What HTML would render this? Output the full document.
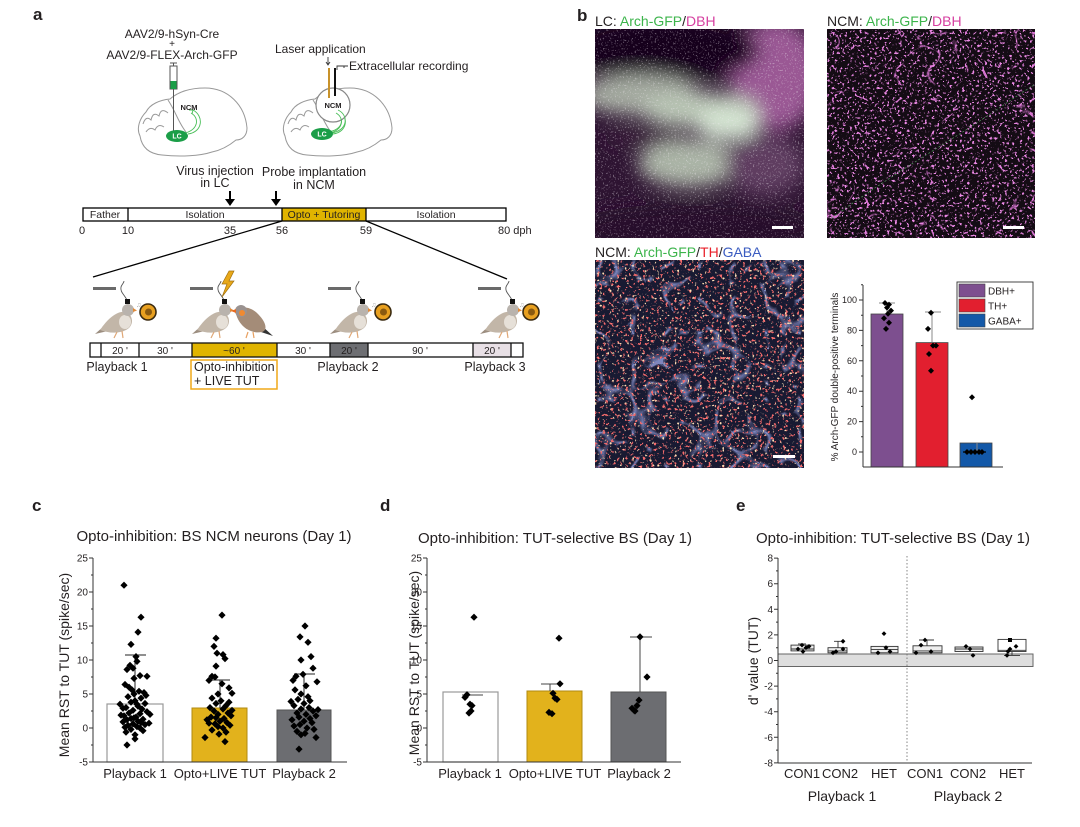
<!DOCTYPE html>
<html><head><meta charset="utf-8"><style>
html,body{margin:0;padding:0;background:#fff}
svg{display:block}
text{font-family:"Liberation Sans",Arial,sans-serif;fill:#231f20}
</style></head><body>
<svg width="1080" height="827" viewBox="0 0 1080 827" xmlns="http://www.w3.org/2000/svg">
<defs>
<path id="dm" d="M0,-3.6L3.6,0L0,3.6L-3.6,0Z" fill="#000"/>
<path id="ds" d="M0,-3L3,0L0,3L-3,0Z" fill="#000"/>
<path id="de" d="M0,-2.4L2.4,0L0,2.4L-2.4,0Z" fill="#000"/>
<filter id="blur9" x="-30%" y="-30%" width="160%" height="160%"><feGaussianBlur stdDeviation="9"/></filter>
<filter id="spW" x="0" y="0" width="1" height="1">
 <feTurbulence type="fractalNoise" baseFrequency="0.6" numOctaves="2" seed="3"/>
 <feColorMatrix type="matrix" values="0 0 0 0 0.9  0 0 0 0 0.85  0 0 0 0 0.9  12 0 0 0 -7.4"/>
</filter>
<filter id="spM" x="0" y="0" width="1" height="1">
 <feTurbulence type="fractalNoise" baseFrequency="0.4" numOctaves="2" seed="7"/>
 <feColorMatrix type="matrix" values="0 0 0 0 0.85  0 0 0 0 0.25  0 0 0 0 0.8  12 0 0 0 -7.2"/>
</filter>
<filter id="fibM" x="0" y="0" width="1" height="1">
 <feTurbulence type="turbulence" baseFrequency="0.03" numOctaves="2" seed="11"/>
 <feColorMatrix type="matrix" values="0 0 0 0 0.8  0 0 0 0 0.2  0 0 0 0 0.75  -22 0 0 0 1.1"/>
</filter>
<filter id="fibB" x="0" y="0" width="1" height="1">
 <feTurbulence type="turbulence" baseFrequency="0.03" numOctaves="2" seed="4"/>
 <feColorMatrix type="matrix" values="0 0 0 0 0.3  0 0 0 0 0.36  0 0 0 0 0.76  -8 0 0 0 1.0"/>
</filter>
<filter id="spR" x="0" y="0" width="1" height="1">
 <feTurbulence type="fractalNoise" baseFrequency="0.35" numOctaves="2" seed="21"/>
 <feColorMatrix type="matrix" values="0 0 0 0 0.92  0 0 0 0 0.15  0 0 0 0 0.15  13 0 0 0 -8.0"/>
</filter>
<filter id="spY" x="0" y="0" width="1" height="1">
 <feTurbulence type="fractalNoise" baseFrequency="0.4" numOctaves="1" seed="33"/>
 <feColorMatrix type="matrix" values="0 0 0 0 1  0 0 0 0 0.72  0 0 0 0 0.45  14 0 0 0 -9.2"/>
</filter>
<clipPath id="c1"><rect x="595" y="29" width="209" height="209"/></clipPath>
<g id="brain">
 <path d="M140,136 C136,128 140,118 146,112 C150,104 160,100 170,99 C178,92 190,88 205,88 C228,88 245,105 247,128 C247,136 242,140 236,140 C230,145 222,150 212,152 C200,156 180,157 162,155 C150,154 142,148 140,136 Z" fill="#fff" stroke="#999" stroke-width="1"/>
 <path d="M143,124 q3,-9 8,-4 q2,-9 8,-4 q2,-9 9,-3 M146,132 q4,-6 9,-2 q3,-7 9,-3" fill="none" stroke="#999"/>
 <path d="M168,100 C176,112 178,122 186,132" fill="none" stroke="#999"/>
 <path d="M185,133 C198,130 200,118 191,113 M188,134 C203,132 204,116 193,110 M189,110 l4,0 -1,4" fill="none" stroke="#4bbf5a" stroke-width="0.9"/>
</g>
<g id="bird">
 <rect x="93" y="287" width="23" height="3" fill="#6a6a6a"/>
 <path d="M127,300 C124,294 120,292 121,287 C122,284 124,283 124,281" fill="none" stroke="#555" stroke-width="0.9"/>
 <polygon points="95,334 104,326 108,331" fill="#9c8e80"/>
 <path d="M100,330 C108,318 118,310 126,312 C134,316 134,326 126,330 C118,334 108,333 100,330 Z" fill="#c2b6a8"/>
 <ellipse cx="125" cy="322" rx="6" ry="7" fill="#e6e0d8"/>
 <circle cx="128" cy="310" r="6" fill="#b9b3ad"/>
 <polygon points="133,308 137,310.5 133,312" fill="#e08a38"/>
 <path d="M117,332 l-3,6 M122,331 l1,7" stroke="#e0a878" stroke-width="1.2"/>
 <rect x="125" y="299" width="5" height="5" fill="#111"/>
</g>
<g id="spk">
 <circle cx="0" cy="0" r="8" fill="#e8a020" stroke="#3a2a10" stroke-width="1.6"/>
 <circle cx="0.5" cy="0" r="3.5" fill="#8a5a10"/>
 <text x="-12" y="-5" font-size="7" style="fill:#aaa">♫</text>
</g>
</defs>

<!-- ===== Panel a ===== -->
<text x="33" y="20" font-size="17" font-weight="bold">a</text>
<text x="172" y="38" font-size="12" text-anchor="middle">AAV2/9-hSyn-Cre</text>
<text x="172" y="47" font-size="10" text-anchor="middle">+</text>
<text x="172" y="59" font-size="12" text-anchor="middle">AAV2/9-FLEX-Arch-GFP</text>
<use href="#brain"/>
<path d="M170,63 h7 M173.5,63 v3" stroke="#555"/>
<rect x="170" y="66" width="7" height="23" fill="#fff" stroke="#555"/>
<rect x="170.5" y="81" width="6" height="8" fill="#1b9e48"/>
<line x1="173.5" y1="89" x2="173.5" y2="131" stroke="#555"/>
<text x="189" y="110" font-size="7.5" font-weight="bold" text-anchor="middle">NCM</text>
<ellipse cx="177" cy="136" rx="11" ry="6" fill="#1b9e48"/>
<text x="177" y="138.5" font-size="7" font-weight="bold" text-anchor="middle" style="fill:#fff">LC</text>

<use href="#brain" x="145"/>
<circle cx="333" cy="105" r="17" fill="#fff" stroke="#888" stroke-width="1.2"/>
<path d="M328,132 C343,130 345,118 336,113 M331,133 C348,131 349,115 338,110" fill="none" stroke="#4bbf5a" stroke-width="0.9"/>
<text x="333" y="108" font-size="7.5" font-weight="bold" text-anchor="middle">NCM</text>
<ellipse cx="322" cy="134" rx="11" ry="6" fill="#1b9e48"/>
<text x="322" y="136.5" font-size="7" font-weight="bold" text-anchor="middle" style="fill:#fff">LC</text>
<line x1="329" y1="68" x2="329" y2="98" stroke="#c8922a" stroke-width="2"/>
<line x1="335" y1="68" x2="335" y2="96" stroke="#111" stroke-width="2"/>
<path d="M328,57 v7 M326,62 l2,3 2,-3" fill="none" stroke="#333" stroke-width="0.9"/>
<path d="M337,70 v-4 h7 v2 M344,66 h4" fill="none" stroke="#333" stroke-width="0.9"/>
<text x="275" y="53" font-size="12">Laser application</text>
<text x="349" y="70" font-size="12">Extracellular recording</text>

<text x="215" y="175" font-size="12.5" text-anchor="middle">Virus injection</text>
<text x="215" y="187" font-size="12.5" text-anchor="middle">in LC</text>
<text x="314" y="176" font-size="12.5" text-anchor="middle">Probe implantation</text>
<text x="314" y="189" font-size="12.5" text-anchor="middle">in NCM</text>
<line x1="230" y1="191" x2="230" y2="200" stroke="#000" stroke-width="2"/>
<polygon points="225,199 235,199 230,206" fill="#000"/>
<line x1="276" y1="191" x2="276" y2="200" stroke="#000" stroke-width="2"/>
<polygon points="271,199 281,199 276,206" fill="#000"/>

<rect x="282" y="208" width="84" height="13" fill="#e0b400"/>
<rect x="83" y="208" width="423" height="13" fill="none" stroke="#000" stroke-width="1.3"/>
<path d="M128,208 v13 M282,208 v13 M366,208 v13" stroke="#000" stroke-width="1.3"/>
<text x="105" y="218" font-size="10.5" text-anchor="middle">Father</text>
<text x="205" y="218" font-size="10.5" text-anchor="middle">Isolation</text>
<text x="324" y="218" font-size="10.5" text-anchor="middle">Opto + Tutoring</text>
<text x="436" y="218" font-size="10.5" text-anchor="middle">Isolation</text>
<text x="82" y="234" font-size="11" text-anchor="middle">0</text>
<text x="128" y="234" font-size="11" text-anchor="middle">10</text>
<text x="230" y="234" font-size="11" text-anchor="middle">35</text>
<text x="282" y="234" font-size="11" text-anchor="middle">56</text>
<text x="366" y="234" font-size="11" text-anchor="middle">59</text>
<text x="498" y="234" font-size="11">80 dph</text>
<line x1="282" y1="221" x2="93" y2="277" stroke="#000" stroke-width="1.3"/>
<line x1="366" y1="221" x2="507" y2="279" stroke="#000" stroke-width="1.3"/>

<!-- birds -->
<use href="#bird"/>
<use href="#spk" x="148" y="312"/>
<use href="#bird" x="97"/>
<polygon points="229,271 222,284 227,284 222,297 234,281 229,281 234,271" fill="#e8a818" stroke="#a07010" stroke-width="0.7"/>
<g>
 <polygon points="273,336 262,326 258,331" fill="#333"/>
 <path d="M236,314 C240,305 250,306 258,314 C266,322 268,330 262,332 C252,334 240,328 236,314 Z" fill="#a48c78"/>
 <circle cx="241" cy="311" r="6" fill="#9a9290"/>
 <circle cx="242" cy="313" r="3" fill="#f08a30"/>
 <polygon points="236,309 231,311 236,313" fill="#e86a20"/>
 <path d="M248,332 l-2,6 M253,332 l1,6" stroke="#e8a060" stroke-width="1.2"/>
</g>
<use href="#bird" x="235"/>
<use href="#spk" x="383" y="312"/>
<use href="#bird" x="385"/>
<use href="#spk" x="531" y="312"/>

<!-- lower timeline -->
<rect x="192" y="343" width="85" height="14" fill="#e0b400"/>
<rect x="330" y="343" width="38" height="14" fill="#6d6e72"/>
<rect x="473" y="343" width="38" height="14" fill="#e8e0e6"/>
<rect x="90" y="343" width="433" height="14" fill="none" stroke="#111" stroke-width="1.3"/>
<path d="M101,343 v14 M139,343 v14 M192,343 v14 M277,343 v14 M330,343 v14 M368,343 v14 M473,343 v14 M511,343 v14" stroke="#111" stroke-width="1.3"/>
<text x="120" y="354" font-size="10" text-anchor="middle">20 '</text>
<text x="165" y="354" font-size="10" text-anchor="middle">30 '</text>
<text x="234" y="354" font-size="10" text-anchor="middle">~60 '</text>
<text x="303" y="354" font-size="10" text-anchor="middle">30 '</text>
<text x="349" y="354" font-size="10" text-anchor="middle">20 '</text>
<text x="420" y="354" font-size="10" text-anchor="middle">90 '</text>
<text x="492" y="354" font-size="10" text-anchor="middle">20 '</text>
<text x="117" y="371" font-size="12.5" text-anchor="middle">Playback 1</text>
<rect x="191" y="360" width="86" height="29" fill="none" stroke="#f0a818" stroke-width="1.5"/>
<text x="194" y="371" font-size="12.5">Opto-inhibition</text>
<text x="194" y="385" font-size="12.5">+ LIVE TUT</text>
<text x="348" y="371" font-size="12.5" text-anchor="middle">Playback 2</text>
<text x="495" y="371" font-size="12.5" text-anchor="middle">Playback 3</text>

<!-- ===== Panel b ===== -->
<text x="577" y="21" font-size="17" font-weight="bold">b</text>
<text x="595" y="26" font-size="14">LC: <tspan style="fill:#3cb44b">Arch-GFP</tspan>/<tspan style="fill:#d63fa0">DBH</tspan></text>
<text x="827" y="26" font-size="14">NCM: <tspan style="fill:#3cb44b">Arch-GFP</tspan>/<tspan style="fill:#d63fa0">DBH</tspan></text>
<text x="595" y="257" font-size="14">NCM: <tspan style="fill:#3cb44b">Arch-GFP</tspan>/<tspan style="fill:#e8202a">TH</tspan>/<tspan style="fill:#3a5bc0">GABA</tspan></text>

<g clip-path="url(#c1)">
 <rect x="595" y="29" width="209" height="209" fill="#2e1432"/>
 <g filter="url(#blur9)">
  <ellipse cx="775" cy="75" rx="45" ry="55" fill="#9a5894"/>
  <ellipse cx="665" cy="50" rx="95" ry="32" fill="#14061a"/>
  <ellipse cx="640" cy="95" rx="60" ry="20" fill="#a4aaa0"/>
  <ellipse cx="700" cy="110" rx="60" ry="18" fill="#b8c4b4"/>
  <ellipse cx="728" cy="124" rx="32" ry="16" fill="#d4e4d2"/>
  <ellipse cx="690" cy="163" rx="52" ry="24" fill="#aab4a6"/>
  <ellipse cx="645" cy="137" rx="40" ry="7" fill="#3a1a3a"/>
  <ellipse cx="765" cy="165" rx="40" ry="30" fill="#5e3e60"/>
  <ellipse cx="700" cy="228" rx="130" ry="25" fill="#26102a"/>
 </g>
 <rect x="595" y="29" width="209" height="209" filter="url(#spW)" opacity="0.35"/>
</g>
<rect x="772" y="226" width="21" height="3" fill="#fff"/>

<rect x="827" y="29" width="208" height="209" fill="#140c14"/>
<rect x="827" y="29" width="208" height="209" filter="url(#fibM)" opacity="0.9"/>
<rect x="827" y="29" width="208" height="209" filter="url(#spM)"/>
<path d="M832,218 C870,190 910,165 950,140 C990,115 1010,100 1034,85" fill="none" stroke="#5fae6a" stroke-width="0.8" stroke-dasharray="2,2" opacity="0.8"/>
<rect x="1003" y="226" width="21" height="3" fill="#fff"/>

<rect x="595" y="260" width="209" height="208" fill="#181a32"/>
<rect x="595" y="260" width="209" height="208" filter="url(#fibB)" opacity="0.8"/>
<rect x="595" y="260" width="209" height="208" filter="url(#spR)"/>
<rect x="595" y="260" width="209" height="208" filter="url(#spY)"/>
<rect x="773" y="455" width="22" height="3" fill="#fff"/>

<!-- b bar chart -->
<rect x="871" y="314" width="32" height="153" fill="#7d4f8f" stroke="#444" stroke-width="0.8"/>
<rect x="916" y="342.6" width="32" height="124.4" fill="#e21f2f" stroke="#444" stroke-width="0.8"/>
<rect x="960" y="443" width="32" height="24" fill="#1358a8" stroke="#444" stroke-width="0.8"/>
<path d="M887,314 V303 M879,303 H895 M932,342.6 V312 M925,312 H941 M977,443 V452" stroke="#888" stroke-width="1"/>
<line x1="863" y1="285" x2="863" y2="467" stroke="#333"/>
<line x1="863" y1="467" x2="1003" y2="467" stroke="#333"/>
<path d="M859,452 h4 M859,421.6 h4 M859,391.2 h4 M859,360.8 h4 M859,330.4 h4 M859,300 h4 M861,436.8 h2 M861,406.4 h2 M861,376 h2 M861,345.6 h2 M861,315.2 h2 M861,284.8 h2" stroke="#333"/>
<g font-size="9" text-anchor="end">
<text x="857" y="455">0</text><text x="857" y="424.6">20</text><text x="857" y="394.2">40</text><text x="857" y="363.8">60</text><text x="857" y="333.4">80</text><text x="857" y="303">100</text>
</g>
<text transform="translate(838,377) rotate(-90)" font-size="10" text-anchor="middle">% Arch-GFP double-positive terminals</text>
<use href="#ds" x="885" y="303"/><use href="#ds" x="889" y="304.6"/><use href="#ds" x="887" y="307.6"/><use href="#ds" x="891" y="310.6"/><use href="#ds" x="888" y="313.7"/><use href="#ds" x="884" y="318.2"/><use href="#ds" x="889" y="322.8"/><use href="#ds" x="886" y="328.9"/>
<use href="#ds" x="931" y="312.7"/><use href="#ds" x="928" y="328.9"/><use href="#ds" x="933" y="345.6"/><use href="#ds" x="936" y="345.6"/><use href="#ds" x="929" y="354"/><use href="#ds" x="931" y="370.7"/>
<use href="#ds" x="972" y="397.3"/><use href="#ds" x="967" y="452"/><use href="#ds" x="971" y="452"/><use href="#ds" x="975" y="452"/><use href="#ds" x="979" y="452"/><use href="#ds" x="982" y="452"/>
<line x1="963" y1="452" x2="986" y2="452" stroke="#000" stroke-width="1.2"/>
<rect x="957" y="282" width="76" height="47" fill="#fff" stroke="#333" stroke-width="0.9"/>
<rect x="959" y="284" width="26" height="13" fill="#7d4f8f" stroke="#444" stroke-width="0.6"/>
<rect x="959" y="299" width="26" height="13" fill="#e21f2f" stroke="#444" stroke-width="0.6"/>
<rect x="959" y="314" width="26" height="13" fill="#1358a8" stroke="#444" stroke-width="0.6"/>
<text x="988" y="294.5" font-size="10">DBH+</text>
<text x="988" y="309.5" font-size="10">TH+</text>
<text x="988" y="324.5" font-size="10">GABA+</text>

<!-- ===== Panel c ===== -->
<text x="32" y="511" font-size="17" font-weight="bold">c</text>
<text x="214" y="541" font-size="15" text-anchor="middle">Opto-inhibition: BS NCM neurons (Day 1)</text>
<rect x="107" y="704" width="56" height="58" fill="#fff" stroke="#999" stroke-width="1.2"/>
<rect x="192" y="708" width="55" height="54" fill="#e2b21c" stroke="#b08a10" stroke-width="1"/>
<rect x="277" y="710" width="54" height="52" fill="#6c6d71" stroke="#555" stroke-width="1"/>
<path d="M135,704 V655 M125,655 H146 M220,708 V680 M209,680 H230 M304,710 V674 M294,674 H315" stroke="#222" stroke-width="1"/>
<line x1="93" y1="558" x2="93" y2="762" stroke="#333"/>
<line x1="93" y1="762" x2="347" y2="762" stroke="#333"/>
<path d="M89,558h4M89,592h4M89,626h4M89,660h4M89,694h4M89,728h4M89,762h4M91,575h2M91,609h2M91,643h2M91,677h2M91,711h2M91,745h2" stroke="#333"/>
<g font-size="10" text-anchor="end">
<text x="88" y="561.5">25</text><text x="88" y="595.5">20</text><text x="88" y="629.5">15</text><text x="88" y="663.5">10</text><text x="88" y="697.5">5</text><text x="88" y="731.5">0</text><text x="88" y="765.5">-5</text>
</g>
<text transform="translate(69,665) rotate(-90)" font-size="14" text-anchor="middle">Mean RST to TUT (spike/sec)</text>
<g font-size="13" text-anchor="middle">
<text x="135" y="778">Playback 1</text><text x="220" y="778">Opto+LIVE TUT</text><text x="304" y="778">Playback 2</text>
</g>
<g>
<use href="#dm" x="124" y="585.2"/><use href="#dm" x="141" y="617.2"/><use href="#dm" x="138" y="632.1"/><use href="#dm" x="131" y="644.4"/><use href="#dm" x="136" y="656.6"/><use href="#dm" x="137" y="661.4"/><use href="#dm" x="130" y="665.4"/><use href="#dm" x="133" y="668.2"/><use href="#dm" x="127" y="669.5"/><use href="#dm" x="147" y="676.3"/><use href="#dm" x="140" y="675.6"/><use href="#dm" x="134" y="678.4"/><use href="#dm" x="125" y="684.5"/><use href="#dm" x="129" y="687.2"/><use href="#dm" x="132" y="689.9"/><use href="#dm" x="139" y="691.3"/><use href="#dm" x="144" y="692.6"/><use href="#dm" x="134" y="694"/><use href="#dm" x="128" y="696.7"/><use href="#dm" x="141" y="698.1"/><use href="#dm" x="135" y="700.8"/><use href="#dm" x="131" y="702.2"/><use href="#dm" x="145" y="703.5"/><use href="#dm" x="120" y="704.2"/><use href="#dm" x="138" y="706.2"/><use href="#dm" x="126" y="707.6"/><use href="#dm" x="142" y="709"/><use href="#dm" x="133" y="710.3"/><use href="#dm" x="147" y="711.7"/><use href="#dm" x="129" y="713"/><use href="#dm" x="140" y="713.7"/><use href="#dm" x="150" y="714.4"/><use href="#dm" x="124" y="715.8"/><use href="#dm" x="136" y="717.1"/><use href="#dm" x="131" y="718.5"/><use href="#dm" x="143" y="719.2"/><use href="#dm" x="127" y="719.8"/><use href="#dm" x="138" y="721.2"/><use href="#dm" x="123" y="721.9"/><use href="#dm" x="141" y="722.6"/><use href="#dm" x="133" y="723.9"/><use href="#dm" x="145" y="724.6"/><use href="#dm" x="128" y="725.3"/><use href="#dm" x="137" y="726.6"/><use href="#dm" x="125" y="727.3"/><use href="#dm" x="140" y="728"/><use href="#dm" x="131" y="729.4"/><use href="#dm" x="143" y="730.7"/><use href="#dm" x="126" y="732.1"/><use href="#dm" x="135" y="734.8"/><use href="#dm" x="135" y="738.9"/><use href="#dm" x="127" y="745"/><use href="#dm" x="137" y="704.2"/><use href="#dm" x="134" y="717.8"/><use href="#dm" x="123" y="708.3"/><use href="#dm" x="146" y="695.4"/><use href="#dm" x="149" y="723.2"/><use href="#dm" x="121" y="715.1"/>
<use href="#dm" x="222" y="615.1"/><use href="#dm" x="216" y="638.2"/><use href="#dm" x="214" y="646.4"/><use href="#dm" x="217" y="653.2"/><use href="#dm" x="223" y="654.6"/><use href="#dm" x="225" y="658.6"/><use href="#dm" x="216" y="666.1"/><use href="#dm" x="215" y="677"/><use href="#dm" x="212" y="676.3"/><use href="#dm" x="209" y="680.4"/><use href="#dm" x="222" y="683.8"/><use href="#dm" x="229" y="687.9"/><use href="#dm" x="232" y="693.3"/><use href="#dm" x="212" y="698.1"/><use href="#dm" x="221" y="700.8"/><use href="#dm" x="216" y="703.5"/><use href="#dm" x="226" y="705.6"/><use href="#dm" x="210" y="707.6"/><use href="#dm" x="223" y="709"/><use href="#dm" x="214" y="711"/><use href="#dm" x="228" y="713"/><use href="#dm" x="218" y="714.4"/><use href="#dm" x="231" y="715.8"/><use href="#dm" x="211" y="717.1"/><use href="#dm" x="224" y="718.5"/><use href="#dm" x="207" y="719.8"/><use href="#dm" x="220" y="721.2"/><use href="#dm" x="227" y="722.6"/><use href="#dm" x="215" y="723.9"/><use href="#dm" x="230" y="725.3"/><use href="#dm" x="218" y="726.6"/><use href="#dm" x="223" y="728"/><use href="#dm" x="212" y="730"/><use href="#dm" x="226" y="732.1"/><use href="#dm" x="219" y="734.1"/><use href="#dm" x="205" y="737.5"/><use href="#dm" x="225" y="741.6"/><use href="#dm" x="218" y="694"/><use href="#dm" x="229" y="702.2"/><use href="#dm" x="232" y="710.3"/><use href="#dm" x="216" y="717.8"/><use href="#dm" x="209" y="723.2"/>
<use href="#dm" x="305" y="626"/><use href="#dm" x="300" y="636.9"/><use href="#dm" x="308" y="642.3"/><use href="#dm" x="311" y="656.6"/><use href="#dm" x="301" y="660"/><use href="#dm" x="313" y="668.2"/><use href="#dm" x="303" y="674.3"/><use href="#dm" x="296" y="676.3"/><use href="#dm" x="293" y="680.4"/><use href="#dm" x="317" y="681.8"/><use href="#dm" x="306" y="685.8"/><use href="#dm" x="295" y="689.9"/><use href="#dm" x="301" y="694"/><use href="#dm" x="308" y="696.7"/><use href="#dm" x="298" y="699.4"/><use href="#dm" x="310" y="700.8"/><use href="#dm" x="304" y="703.5"/><use href="#dm" x="294" y="705.6"/><use href="#dm" x="309" y="707.6"/><use href="#dm" x="301" y="709"/><use href="#dm" x="313" y="711"/><use href="#dm" x="297" y="713"/><use href="#dm" x="306" y="714.4"/><use href="#dm" x="316" y="715.8"/><use href="#dm" x="299" y="717.1"/><use href="#dm" x="310" y="718.5"/><use href="#dm" x="292" y="719.8"/><use href="#dm" x="304" y="721.2"/><use href="#dm" x="312" y="722.6"/><use href="#dm" x="300" y="724.6"/><use href="#dm" x="294" y="726"/><use href="#dm" x="307" y="728"/><use href="#dm" x="314" y="729.4"/><use href="#dm" x="297" y="731.4"/><use href="#dm" x="305" y="733.4"/><use href="#dm" x="301" y="734.8"/><use href="#dm" x="316" y="737.5"/><use href="#dm" x="299" y="749.1"/><use href="#dm" x="318" y="709.6"/><use href="#dm" x="291" y="701.5"/>
</g>

<!-- ===== Panel d ===== -->
<text x="380" y="511" font-size="17" font-weight="bold">d</text>
<text x="555" y="543" font-size="15" text-anchor="middle">Opto-inhibition: TUT-selective BS (Day 1)</text>
<rect x="443" y="692" width="55" height="70" fill="#fff" stroke="#999" stroke-width="1.2"/>
<rect x="527" y="691" width="55" height="71" fill="#e2b21c" stroke="#b08a10" stroke-width="1"/>
<rect x="611" y="692" width="55" height="70" fill="#6c6d71" stroke="#555" stroke-width="1"/>
<path d="M462,695 H483 M550,691 V684 M541,684 H559 M640,692 V637 M630,637 H652" stroke="#444" stroke-width="1"/>
<line x1="427" y1="558" x2="427" y2="762" stroke="#333"/>
<line x1="427" y1="762" x2="681" y2="762" stroke="#333"/>
<path d="M423,558h4M423,592h4M423,626h4M423,660h4M423,694h4M423,728h4M423,762h4M425,575h2M425,609h2M425,643h2M425,677h2M425,711h2M425,745h2" stroke="#333"/>
<g font-size="10" text-anchor="end">
<text x="422" y="561.5">25</text><text x="422" y="595.5">20</text><text x="422" y="629.5">15</text><text x="422" y="663.5">10</text><text x="422" y="697.5">5</text><text x="422" y="731.5">0</text><text x="422" y="765.5">-5</text>
</g>
<text transform="translate(419,663) rotate(-90)" font-size="14" text-anchor="middle">Mean RST to TUT (spike/sec)</text>
<g font-size="13" text-anchor="middle">
<text x="470" y="778">Playback 1</text><text x="555" y="778">Opto+LIVE TUT</text><text x="639" y="778">Playback 2</text>
</g>
<use href="#dm" x="474" y="617.2"/><use href="#dm" x="467" y="694.7"/><use href="#dm" x="465" y="697.4"/><use href="#dm" x="470" y="704.2"/><use href="#dm" x="472" y="705.6"/><use href="#dm" x="471" y="711"/><use href="#dm" x="469" y="713"/>
<use href="#dm" x="559" y="638.2"/><use href="#dm" x="560" y="683.8"/><use href="#dm" x="553" y="693.3"/><use href="#dm" x="555" y="698.1"/><use href="#dm" x="557" y="699.4"/><use href="#dm" x="549" y="712.4"/><use href="#dm" x="552" y="713.7"/>
<use href="#dm" x="640" y="636.9"/><use href="#dm" x="647" y="677"/><use href="#dm" x="639" y="700.1"/><use href="#dm" x="637" y="705.6"/><use href="#dm" x="632" y="708.3"/><use href="#dm" x="634" y="710.3"/><use href="#dm" x="635" y="711"/>

<!-- ===== Panel e ===== -->
<text x="736" y="511" font-size="17" font-weight="bold">e</text>
<text x="893" y="543" font-size="15" text-anchor="middle">Opto-inhibition: TUT-selective BS (Day 1)</text>
<rect x="778" y="654" width="255" height="12.5" fill="#dedede" stroke="#666" stroke-width="1"/>
<line x1="907" y1="556" x2="907" y2="763" stroke="#666" stroke-width="0.8" stroke-dasharray="1.5,2"/>
<line x1="778" y1="558" x2="778" y2="763" stroke="#333"/>
<line x1="778" y1="763" x2="1032" y2="763" stroke="#333"/>
<path d="M774,558.1h4M774,583.7h4M774,609.3h4M774,634.9h4M774,660.5h4M774,686.1h4M774,711.7h4M774,737.3h4M774,762.9h4M776,570.9h2M776,596.5h2M776,622.1h2M776,647.7h2M776,673.3h2M776,698.9h2M776,724.5h2M776,750.1h2" stroke="#333"/>
<g font-size="10" text-anchor="end">
<text x="773" y="561.6">8</text><text x="773" y="587.2">6</text><text x="773" y="612.8">4</text><text x="773" y="638.4">2</text><text x="773" y="664">0</text><text x="773" y="689.6">-2</text><text x="773" y="715.2">-4</text><text x="773" y="740.8">-6</text><text x="773" y="766.4">-8</text>
</g>
<text transform="translate(758,661) rotate(-90)" font-size="14" text-anchor="middle">d' value (TUT)</text>
<g fill="#eee" stroke="#333" stroke-width="0.9">
<path d="M802,645 V643.9 M798,643.9 H806 M802,651 V652.8" fill="none"/>
<rect x="791" y="645.1" width="23" height="5.8"/>
<path d="M838,647.7 V641.3 M834,641.3 H842" fill="none"/>
<rect x="828" y="647.7" width="19" height="5.1"/>
<rect x="871" y="646.4" width="27" height="6.4"/>
<path d="M927,645.8 V640 M919,640 H934" fill="none"/>
<rect x="913" y="645.8" width="29" height="7"/>
<rect x="955" y="647" width="28" height="4.5"/>
<path d="M1012,651.5 V655.4 M1004,655.4 H1020" fill="none"/>
<rect x="998" y="639.4" width="28" height="12.1" fill="#fff"/>
<path d="M791,649 H814 M828,650.9 H847 M871,649.6 H898 M913,650.9 H942 M955,649 H983 M998,650.3 H1026" fill="none"/>
</g>
<use href="#de" x="802" y="645.1"/><use href="#de" x="806" y="647.7"/><use href="#de" x="798" y="649"/><use href="#de" x="803" y="651.5"/><use href="#de" x="809" y="646.4"/>
<use href="#de" x="843" y="641.3"/><use href="#de" x="843" y="649"/><use href="#de" x="836" y="651.5"/><use href="#de" x="833" y="652.8"/>
<use href="#de" x="884" y="633.6"/><use href="#de" x="886" y="647.7"/><use href="#de" x="878" y="652.8"/><use href="#de" x="890" y="651.5"/>
<use href="#de" x="925" y="640"/><use href="#de" x="921" y="645.1"/><use href="#de" x="931" y="651.5"/><use href="#de" x="916" y="652.8"/>
<use href="#de" x="966" y="646.4"/><use href="#de" x="970" y="649"/><use href="#de" x="973" y="655.4"/>
<rect x="1008" y="638" width="4" height="4" fill="#000"/><use href="#de" x="1016" y="646.4"/><use href="#de" x="1010" y="649"/><use href="#de" x="1008" y="651.5"/><use href="#de" x="1007" y="655.4"/>
<g font-size="13" text-anchor="middle">
<text x="802" y="778">CON1</text><text x="840" y="778">CON2</text><text x="884" y="778">HET</text><text x="925" y="778">CON1</text><text x="968" y="778">CON2</text><text x="1012" y="778">HET</text>
</g>
<g font-size="14" text-anchor="middle">
<text x="842" y="801">Playback 1</text><text x="968" y="801">Playback 2</text>
</g>
</svg>
</body></html>
